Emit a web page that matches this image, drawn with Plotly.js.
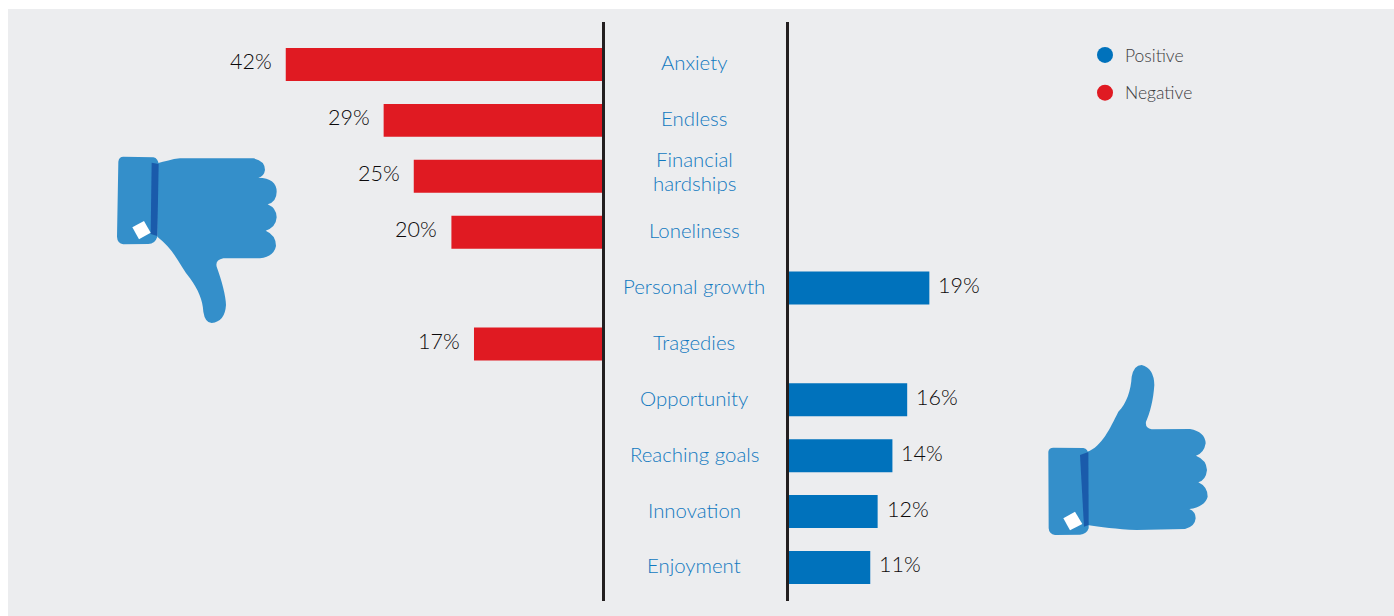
<!DOCTYPE html>
<html>
<head>
<meta charset="utf-8">
<script src="https://cdn.plot.ly/plotly-3.0.1.min.js"></script>
<style>html,body{margin:0;padding:0;background:#fff;overflow:hidden}#chart{width:1394px;height:616px}</style>
</head>
<body>
<div id="chart"></div>
<script>
const categories = ['Anxiety','Endless','Financial<br>hardships','Loneliness','Personal growth','Tragedies','Opportunity','Reaching goals','Innovation','Enjoyment'];
const negativeValues = [42,29,25,20,null,17,null,null,null,null];
const positiveValues = [null,null,null,null,19,null,16,14,12,11];
const seriesNames = ['Positive','Negative'];

const W = 1394, H = 616;
const RED = '#e01a22', BLUE = '#0072bc', INK = '#0c0a0b', ICON = '#348fca', BAND = '#1a5bab';
const FONT = 'Lato, "Open Sans", sans-serif';
const px = x => x / W, py = y => 1 - y / H;

// icon outlines, local units: 3 units = 1 pixel
function place(d, ox, oy) {
  return d.replace(/(-?[\d.]+),(-?[\d.]+)/g, (m, a, b) =>
    px(ox + a / 3).toFixed(5) + ',' + py(oy + b / 3).toFixed(5));
}
const iconShape = (d, ox, oy, color) => ({type:'path', xref:'paper', yref:'paper', path:place(d, ox, oy), fillcolor:color, line:{width:0}, layer:'above'});

const downCuff = 'M70,50 L160,52 Q175,55 176,75 L172,290 Q165,312 145,312 L70,313 Q52,310 51,290 L55,65 Q57,50 70,50 Z';
const downHand = 'M172,70 C195,65 215,57 240,55 L460,55 Q495,62 495,90 Q492,110 475,113 Q530,115 530,155 Q530,185 503,193 Q530,205 530,232 Q528,262 497,272 Q528,285 528,318 Q522,350 480,355 L370,355 Q345,360 350,380 C365,420 378,470 378,495 Q375,545 335,549 Q315,548 310,515 C308,480 295,450 270,415 C240,380 225,330 172,290 Z';
const downBand = 'M155,68 L176,72 L172,288 L152,282 Z';
const downTag = 'M97,262 L132,243 L152,278 L117,298 Z';
const upCuff = 'M70,293 L160,294 Q175,297 175,315 L176,535 Q170,553 150,554 L75,555 Q57,552 56,535 L55,305 Q57,293 70,293 Z';
const upHand = 'M172,305 C215,290 240,235 265,185 C290,160 303,120 305,80 Q312,45 335,45 Q372,55 373,105 C370,150 360,190 348,215 Q345,235 365,238 L480,237 Q525,245 527,280 Q522,310 498,317 Q530,330 531,360 Q528,390 505,397 Q533,410 533,440 Q525,470 478,477 Q497,485 497,505 Q495,530 465,537 L320,540 C260,538 210,530 172,525 Z';
const upBand = 'M150,315 L175,306 L176,525 L162,530 Z';
const upTag = 'M100,505 L135,485 L157,522 L120,541 Z';

const barCommon = {type:'bar', orientation:'h', y:categories, showlegend:false, hoverinfo:'skip', width:0.59};
const traces = [
  {...barCommon, x:negativeValues, marker:{color:RED}, xaxis:'x', yaxis:'y'},
  {...barCommon, x:positiveValues, marker:{color:BLUE}, xaxis:'x2', yaxis:'y2'},
  {type:'scatter', mode:'markers', x:[null], y:[null], name:seriesNames[0], legendgroup:'p', marker:{color:BLUE, size:16, symbol:'circle'}, xaxis:'x2', yaxis:'y2'},
  {type:'scatter', mode:'markers', x:[null], y:[null], name:seriesNames[1], legendgroup:'n', marker:{color:RED, size:16, symbol:'circle'}, xaxis:'x2', yaxis:'y2'}
];

const LINE_GAP = 24;
const annotations = [];
categories.forEach((c, i) => {
  const lines = c.split('<br>');
  lines.forEach((t, k) => {
    const off = ((lines.length - 1) / 2 - k) * LINE_GAP + (lines.length > 1 ? 5 : 2);
    annotations.push({xref:'paper', yref:'y', x:px(694), y:c, text:t, showarrow:false, xanchor:'center', yanchor:'middle', yshift:off, align:'center', font:{family:FONT, size:20.4, weight:300, color:'#1279c0'}});
  });
  if (negativeValues[i] !== null) annotations.push({xref:'x', yref:'y', x:negativeValues[i], y:c, text:negativeValues[i] + '%', showarrow:false, xanchor:'right', yanchor:'middle', xshift:-12, yshift:3, font:{family:FONT, size:21.5, weight:300, color:INK}});
  if (positiveValues[i] !== null) annotations.push({xref:'x2', yref:'y2', x:positiveValues[i], y:c, text:positiveValues[i] + '%', showarrow:false, xanchor:'left', yanchor:'middle', xshift:7, yshift:3, font:{family:FONT, size:21.5, weight:300, color:INK}});
});

const yBase = {type:'category', categoryorder:'array', categoryarray:categories, range:[9.6,-0.76], domain:[py(601), py(22)], showgrid:false, zeroline:false, showticklabels:false, ticks:'', showline:true, linecolor:'#231f20', linewidth:3};
const layout = {
  width:W, height:H, margin:{l:0, r:0, t:0, b:0},
  paper_bgcolor:'#ffffff', plot_bgcolor:'rgba(0,0,0,0)',
  barmode:'overlay', showlegend:true, hovermode:false,
  font:{family:FONT},
  xaxis:{domain:[0, px(602)], range:[79.95,0], showgrid:false, zeroline:false, showticklabels:false, ticks:'', showline:false, anchor:'y'},
  xaxis2:{domain:[px(789), 1], range:[0,81.9], showgrid:false, zeroline:false, showticklabels:false, ticks:'', showline:false, anchor:'y2'},
  yaxis:{...yBase, anchor:'x', side:'right'},
  yaxis2:{...yBase, anchor:'x2', side:'left'},
  legend:{x:px(1085), y:py(37), xanchor:'left', yanchor:'top', bgcolor:'rgba(0,0,0,0)', borderwidth:0, traceorder:'grouped', tracegroupgap:12, itemwidth:30, font:{family:FONT, size:17.5, weight:300, color:'#3c3c3e'}},
  annotations,
  shapes:[
    {type:'rect', xref:'paper', yref:'paper', x0:px(8), x1:1, y0:0, y1:py(9), fillcolor:'#ecedef', line:{width:0}, layer:'below'},
    iconShape(downHand,100,140,ICON), iconShape(downCuff,100,140,ICON), iconShape(downBand,100,140,BAND), iconShape(downTag,100,140,'#ffffff'),
    iconShape(upHand,1030,350,ICON), iconShape(upCuff,1030,350,ICON), iconShape(upBand,1030,350,BAND), iconShape(upTag,1030,350,'#ffffff')
  ]
};
Plotly.newPlot('chart', traces, layout, {displayModeBar:false, staticPlot:true});
</script>
</body>
</html>
